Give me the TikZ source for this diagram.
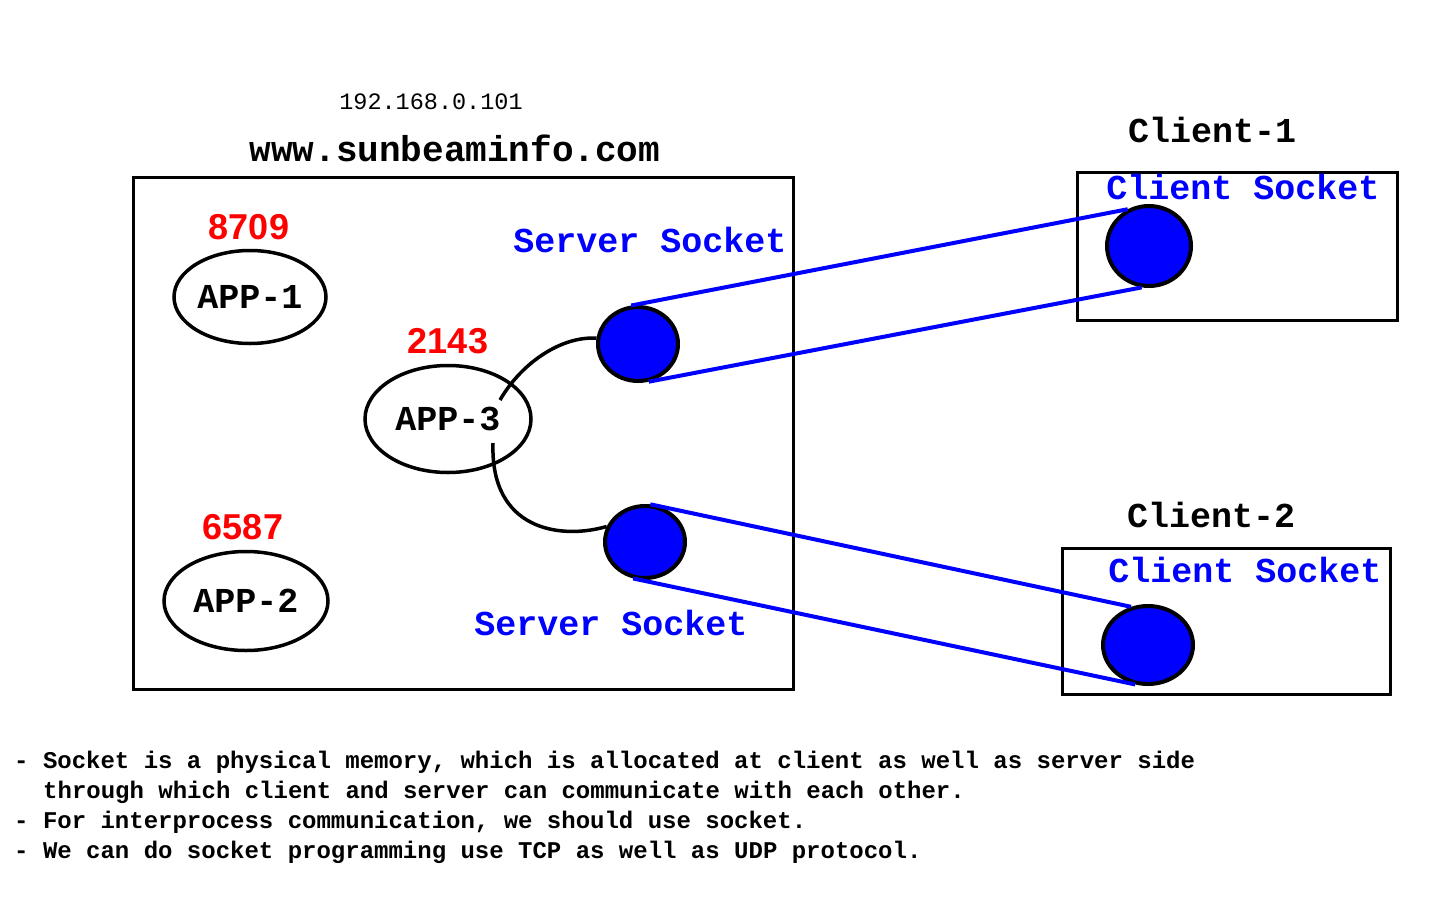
\documentclass[tikz,border=0pt]{standalone}
\usepackage{fontspec}
\setmonofont{Liberation Mono}
\newfontfamily\numfont{Liberation Sans}
\usetikzlibrary{shapes.geometric}
\definecolor{pblue}{RGB}{0,0,255}
\definecolor{pred}{RGB}{255,0,0}
\begin{document}
\begin{tikzpicture}[x=1pt,y=-1pt,
  big/.style={font=\ttfamily\bfseries\fontsize{35}{40}\selectfont, inner sep=0pt},
  num/.style={font=\numfont\bfseries\fontsize{36}{40}\selectfont, text=pred, inner sep=0pt},
  app/.style={ellipse, draw, line width=3.5pt, inner sep=0pt, font=\ttfamily\bfseries\fontsize{35}{40}\selectfont},
  sock/.style={ellipse, draw, fill=pblue, line width=4pt, inner sep=0pt},
  wire/.style={draw=pblue, line width=4pt},
  arcline/.style={draw, line width=3.5pt},
  box/.style={draw, line width=3pt},
  note/.style={font=\ttfamily\bfseries\fontsize{24}{28}\selectfont, inner sep=0pt, anchor=base west}
]
\useasboundingbox (0,0) rectangle (1440,900);

% server box
\node[box, minimum width=660pt, minimum height=512pt, inner sep=0pt] (srv) at (463,433) {};
\node[font=\ttfamily\fontsize{23.5}{26}\selectfont, inner sep=0pt] (ip) at (431,102) {192.168.0.101};
\node[font=\ttfamily\bfseries\fontsize{36}{40}\selectfont, inner sep=0pt] (www) at (455,148) {www.sunbeaminfo.com};

% apps
\node[num] (n1) at (249,227) {8709};
\node[app, minimum width=152pt, minimum height=93pt] (a1) at (250,297) {APP-1};
\node[num] (n3) at (448,341) {2143};
\node[app, minimum width=166pt, minimum height=107pt] (a3) at (448,419) {APP-3};
\node[num] (n2) at (243,527) {6587};
\node[app, minimum width=164pt, minimum height=99pt] (a2) at (246,601) {APP-2};

% server sockets
\node[big, text=pblue] (ss1) at (650,240) {Server Socket};
\node[sock, minimum width=80pt, minimum height=74pt] (s1) at (638,344) {};
\node[sock, minimum width=80pt, minimum height=72pt] (s2) at (645,542) {};
\node[big, text=pblue] (ss2) at (611,623) {Server Socket};

% clients
\node[big] (c1l) at (1212,130) {Client-1};
\node[box, minimum width=320pt, minimum height=148pt, inner sep=0pt] (c1box) at (1237,246) {};
\node[big, text=pblue] (cs1) at (1243,187) {Client Socket};
\node[sock, minimum width=84pt, minimum height=80pt] (c1) at (1149,246) {};

\node[big] (c2l) at (1211,515) {Client-2};
\node[box, minimum width=328pt, minimum height=146pt, inner sep=0pt] (c2box) at (1226,621) {};
\node[big, text=pblue] (cs2) at (1245,570) {Client Socket};
\node[sock, minimum width=90pt, minimum height=78pt] (c2) at (1148,645) {};

% connections from APP-3 to sockets
\coordinate (k1) at (500,400);
\coordinate (k2) at (493,443);
\draw[arcline] (k1) .. controls (522,362) and (562,336) .. (s1.172);
\draw[arcline] (k2) .. controls (490,530) and (560,540) .. (s2.158);

% blue wires
\draw[wire] (s1.100) -- (c1.120);
\draw[wire] (s1.-74) -- (c1.-100);
\draw[wire] (s2.82) -- (c2.114);
\draw[wire] (s2.-108) -- (c2.-108);

% notes
\node[note] (t1) at (14,768) {- Socket is a physical memory, which is allocated at client as well as server side};
\node[note] (t2) at (43,798) {through which client and server can communicate with each other.};
\node[note] (t3) at (14,828) {- For interprocess communication, we should use socket.};
\node[note] (t4) at (14,858) {- We can do socket programming use TCP as well as UDP protocol.};
\end{tikzpicture}
\end{document}
